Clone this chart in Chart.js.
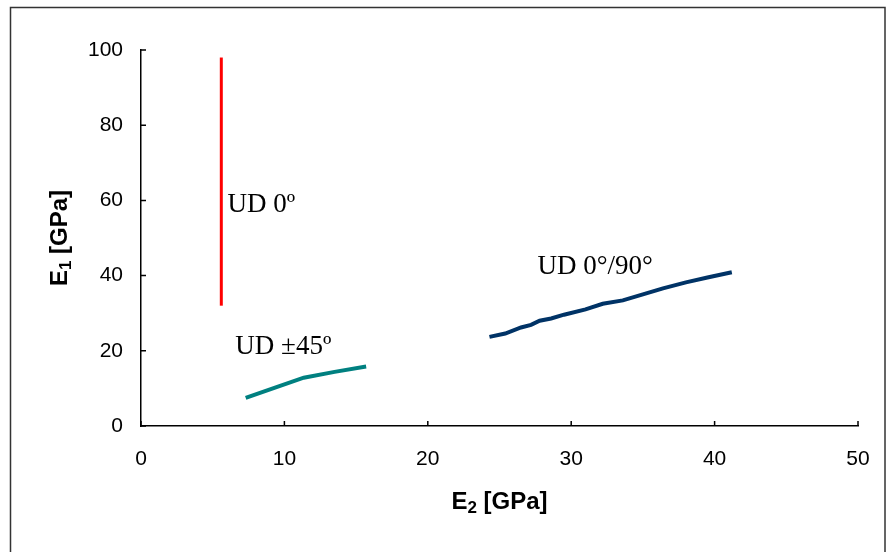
<!DOCTYPE html>
<html>
<head>
<meta charset="utf-8">
<script src="https://cdn.jsdelivr.net/npm/chart.js@4/dist/chart.umd.min.js"></script>
<style>
html,body{margin:0;padding:0;background:#fff;}
#wrap{width:886px;height:552px;position:relative;}
</style>
</head>
<body>
<div id="wrap"><canvas id="c" width="886" height="552"></canvas></div>
<script>
// Data
const ud0_E2  = [5.6, 5.6, 5.6];
const ud0_E1  = [32, 62, 98];
const ud45_E2 = [7.3, 9.4, 11.35, 13.5, 15.7];
const ud45_E1 = [7.5, 10.3, 12.85, 14.4, 15.8];
const ud090_E2 = [24.3, 25.4, 26.5, 27.2, 27.8, 28.6, 29.5, 31.0, 32.2, 33.6, 35.0, 36.4, 38.0, 39.5, 41.2];
const ud090_E1 = [23.7, 24.6, 26.2, 26.9, 28.0, 28.6, 29.6, 31.0, 32.5, 33.4, 35.0, 36.6, 38.2, 39.5, 40.9];
const xTicks = [0, 10, 20, 30, 40, 50];
const yTicks = [0, 20, 40, 60, 80, 100];
const seriesLabels = ['UD 0º', 'UD ±45º', 'UD 0°/90°'];
const labelAnchors = [[6.03, 57.0], [6.58, 19.15], [27.65, 40.3]];

const pts = (xs, ys) => xs.map((x, i) => ({x: x, y: ys[i]}));

const frame = {
  id: 'frame',
  beforeDraw(chart) {
    const ctx = chart.ctx;
    ctx.save();
    ctx.fillStyle = '#fff';
    ctx.fillRect(0, 0, chart.width, chart.height);
    ctx.strokeStyle = '#333';
    ctx.lineWidth = 1.5;
    ctx.strokeRect(10.5, 7.5, 874.5, 560);
    ctx.restore();
  }
};

const decor = {
  id: 'decor',
  afterDraw(chart) {
    const ctx = chart.ctx;
    const xs = chart.scales.x, ys = chart.scales.y;
    const x0 = xs.getPixelForValue(0), y0 = ys.getPixelForValue(0);
    ctx.save();
    ctx.strokeStyle = '#000';
    ctx.lineWidth = 1.5;
    ctx.beginPath();
    xTicks.forEach(v => { const p = xs.getPixelForValue(v); ctx.moveTo(p, y0); ctx.lineTo(p, y0 - 5); });
    yTicks.forEach(v => { const p = ys.getPixelForValue(v); ctx.moveTo(x0, p); ctx.lineTo(x0 + 5, p); });
    ctx.stroke();
    // series labels
    ctx.fillStyle = '#000';
    ctx.font = '27px "Liberation Serif", "Times New Roman", serif';
    ctx.textAlign = 'left';
    ctx.textBaseline = 'alphabetic';
    seriesLabels.forEach((t, i) => {
      ctx.fillText(t, xs.getPixelForValue(labelAnchors[i][0]), ys.getPixelForValue(labelAnchors[i][1]));
    });
    // axis titles with subscripts
    const big = 'bold 24px "Liberation Sans", Arial, sans-serif';
    const small = 'bold 17px "Liberation Sans", Arial, sans-serif';
    function subTitle(cx, cy, rot, sub) {
      ctx.save();
      ctx.translate(cx, cy);
      ctx.rotate(rot);
      ctx.textBaseline = 'alphabetic';
      ctx.font = big; const wE = ctx.measureText('E').width; const wR = ctx.measureText(' [GPa]').width;
      ctx.font = small; const wS = ctx.measureText(sub).width;
      const total = wE + wS + wR;
      let x = -total / 2;
      const base = 8;
      ctx.font = big; ctx.fillText('E', x, base); x += wE;
      ctx.font = small; ctx.fillText(sub, x, base + 4); x += wS;
      ctx.font = big; ctx.fillText(' [GPa]', x, base);
      ctx.restore();
    }
    subTitle((chart.chartArea.left + chart.chartArea.right) / 2, 501, 0, '2');
    subTitle(59, (chart.chartArea.top + chart.chartArea.bottom) / 2, -Math.PI / 2, '1');
    ctx.restore();
  }
};

new Chart(document.getElementById('c'), {
  type: 'scatter',
  data: {
    datasets: [
      { data: pts(ud0_E2, ud0_E1), borderColor: '#ff0000', borderWidth: 3, showLine: true, pointRadius: 0, tension: 0 },
      { data: pts(ud45_E2, ud45_E1), borderColor: '#008080', borderWidth: 4, showLine: true, pointRadius: 0, tension: 0 },
      { data: pts(ud090_E2, ud090_E1), borderColor: '#003366', borderWidth: 4, showLine: true, pointRadius: 0, tension: 0 }
    ]
  },
  options: {
    responsive: false,
    animation: false,
    events: [],
    layout: { padding: { top: 50, right: 28, left: 0, bottom: 0 } },
    plugins: { legend: { display: false }, tooltip: { enabled: false } },
    scales: {
      x: {
        type: 'linear', min: 0, max: 50,
        afterBuildTicks: s => { s.ticks = xTicks.map(v => ({value: v})); },
        afterFit: s => { s.height = 126; s.paddingLeft = 0; s.paddingRight = 0; },
        grid: { display: false, drawTicks: false },
        border: { display: true, color: '#000', width: 1.5 },
        ticks: { color: '#000', padding: 21, font: { family: '"Liberation Sans", Arial, sans-serif', size: 21 } }
      },
      y: {
        type: 'linear', min: 0, max: 100,
        afterBuildTicks: s => { s.ticks = yTicks.map(v => ({value: v})); },
        afterFit: s => { s.width = 141; s.paddingTop = 0; s.paddingBottom = 0; },
        grid: { display: false, drawTicks: false },
        border: { display: true, color: '#000', width: 1.5 },
        ticks: { color: '#000', padding: 18, font: { family: '"Liberation Sans", Arial, sans-serif', size: 21 } }
      }
    }
  },
  plugins: [frame, decor]
});
</script>
</body>
</html>
